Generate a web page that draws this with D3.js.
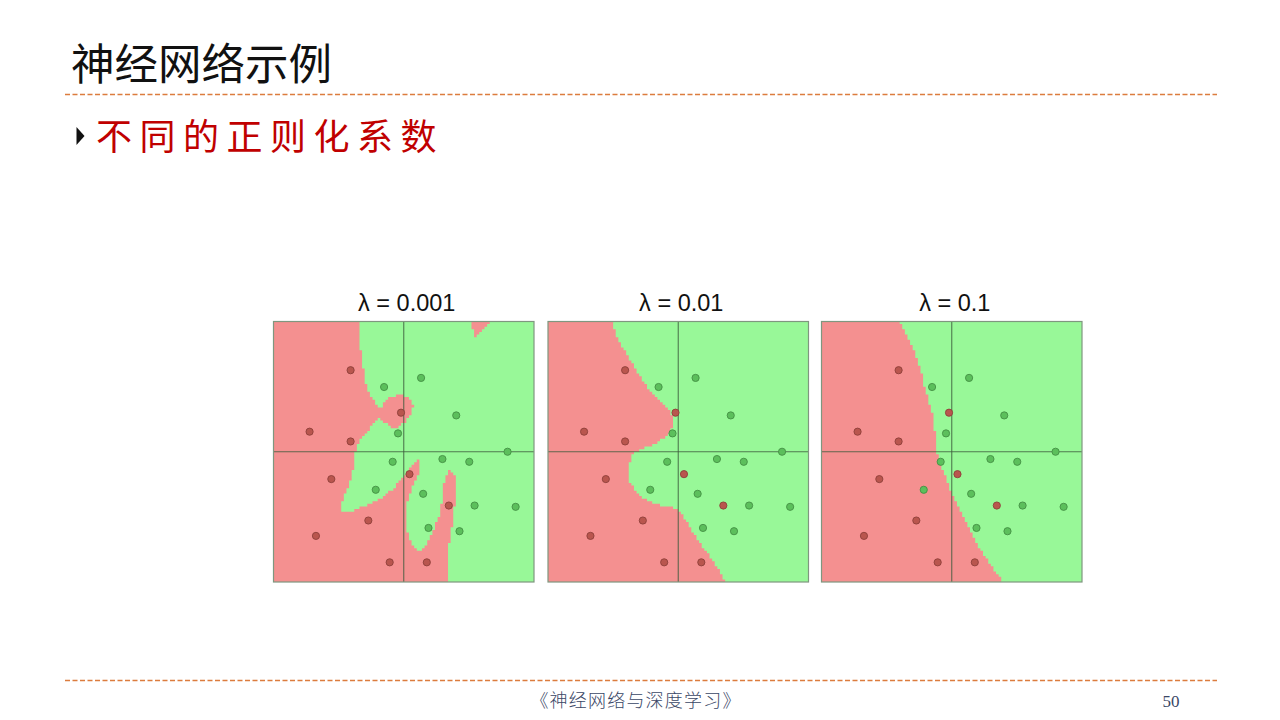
<!DOCTYPE html>
<html>
<head>
<meta charset="utf-8">
<script src="https://cdn.jsdelivr.net/npm/d3@7"></script>
<style>
  html, body { margin: 0; padding: 0; background: #ffffff; }
  svg { display: block; }
</style>
</head>
<body>
<svg id="chart" width="1280" height="720"></svg>
<script>
// ---------------- DATA ----------------
const panelTitles = ["λ = 0.001", "λ = 0.01", "λ = 0.1"];

// training points (same in all panels), normalized feature space [-1, 1]
const pointX = [-0.408, -0.021, -0.723, -0.408, -0.556, 0.044, 0.346, -0.272, -0.674, -0.108, 0.177,
                -0.151, 0.133, 0.403, -0.044, 0.797, -0.085, 0.297, 0.503, -0.215, 0.149, 0.544, 0.859, 0.190, 0.428];
const pointY = [0.626, 0.300, 0.154, 0.079, -0.210, -0.172, -0.413, -0.528, -0.646, -0.849, -0.849,
                0.497, 0.567, 0.279, 0.141, 0.000, -0.077, -0.056, -0.077, -0.292, -0.323, -0.413, -0.423, -0.585, -0.610];
const pointClass = ["r","r","r","r","r","r","r","r","r","r","r",
                    "g","g","g","g","g","g","g","g","g","g","g","g","g","g"];

// red decision regions (polygon boundaries)
const red001Main = [
  [-1, 1], [-0.348, 1], [-0.335, 0.845], [-0.322, 0.691], [-0.296, 0.563], [-0.283, 0.473],
  [-0.232, 0.396], [-0.181, 0.319], [-0.142, 0.396], [-0.091, 0.427], [-0.014, 0.435],
  [0.05, 0.409], [0.075, 0.358], [0.063, 0.294], [0.012, 0.229], [-0.052, 0.178],
  [-0.104, 0.191], [-0.155, 0.229], [-0.194, 0.255], [-0.232, 0.217], [-0.283, 0.152],
  [-0.335, 0.088], [-0.373, -0.002], [-0.386, -0.117], [-0.398, -0.194], [-0.425, -0.258],
  [-0.463, -0.36], [-0.488, -0.437], [-0.488, -0.463], [-0.386, -0.45], [-0.283, -0.412],
  [-0.181, -0.36], [-0.091, -0.296], [-0.014, -0.206], [0.037, -0.142], [0.088, -0.091],
  [0.127, -0.035], [0.127, -0.091], [0.114, -0.168], [0.075, -0.245], [0.037, -0.348],
  [0.012, -0.45], [0.012, -0.552], [0.037, -0.655], [0.088, -0.745], [0.127, -0.763],
  [0.165, -0.719], [0.217, -0.629], [0.268, -0.502], [0.294, -0.373], [0.306, -0.245],
  [0.332, -0.168], [0.358, -0.142], [0.396, -0.181], [0.396, -0.322], [0.388, -0.45],
  [0.371, -0.578], [0.345, -0.732], [0.332, -0.886], [0.332, -1], [-1, -1]
];
const red001Patch = [
  [0.525, 1.02], [0.686, 1.02], [0.64, 0.96], [0.588, 0.909], [0.542, 0.865], [0.532, 0.921]
];
const red01 = [
  [-1, 1], [-0.513, 1], [-0.487, 0.923], [-0.462, 0.859], [-0.423, 0.795], [-0.385, 0.731],
  [-0.346, 0.667], [-0.308, 0.603], [-0.269, 0.538], [-0.218, 0.474], [-0.167, 0.423],
  [-0.115, 0.372], [-0.069, 0.321], [-0.044, 0.269], [-0.038, 0.205], [-0.064, 0.154],
  [-0.115, 0.103], [-0.192, 0.056], [-0.269, 0.026], [-0.321, 0], [-0.359, -0.038],
  [-0.377, -0.103], [-0.385, -0.179], [-0.367, -0.244], [-0.321, -0.308], [-0.269, -0.359],
  [-0.192, -0.397], [-0.09, -0.423], [-0.026, -0.431], [0.013, -0.462], [0.051, -0.513],
  [0.09, -0.577], [0.128, -0.641], [0.167, -0.705], [0.218, -0.769], [0.269, -0.846],
  [0.321, -0.923], [0.367, -1], [-1, -1]
];
const red1 = [
  [-1, 1], [-0.403, 1], [-0.372, 0.944], [-0.338, 0.879], [-0.3, 0.803], [-0.274, 0.726],
  [-0.249, 0.649], [-0.228, 0.585], [-0.21, 0.508], [-0.185, 0.431], [-0.167, 0.354],
  [-0.146, 0.277], [-0.133, 0.2], [-0.126, 0.123], [-0.121, 0.046], [-0.108, -0.031],
  [-0.082, -0.108], [-0.056, -0.172], [-0.031, -0.236], [-0.005, -0.313], [0.033, -0.39],
  [0.072, -0.467], [0.11, -0.544], [0.149, -0.621], [0.187, -0.697], [0.238, -0.774],
  [0.29, -0.851], [0.341, -0.928], [0.392, -1], [-1, -1]
];
const panelRegions = [[red001Main, red001Patch], [red01], [red1]];

// ---------------- LAYOUT / STYLE ----------------
const panelLeft = [273.5, 548, 821.5];
const panelTop = 321.5;
const panelSize = 260.5;
const gridN = 100;
const colGreen = "#98f898";
const colRed = "#f49090";
const dashColor = "#dc7c3e";

const svg = d3.select("#chart");

// header
svg.append("text").attr("x", 71).attr("y", 80)
  .attr("font-family", "'Noto Sans CJK SC', sans-serif").attr("font-size", 43.5)
  .attr("fill", "#111").text("神经网络示例");

svg.append("line").attr("x1", 65).attr("x2", 1217).attr("y1", 94.5).attr("y2", 94.5)
  .attr("stroke", dashColor).attr("stroke-width", 1.3).attr("stroke-dasharray", "5,2.5");

svg.append("path").attr("d", "M76.5,127 L84.5,136 L76.5,145 Z").attr("fill", "#111");

svg.append("text").attr("x", 96).attr("y", 150)
  .attr("font-family", "'Noto Sans CJK SC', sans-serif").attr("font-size", 36)
  .attr("font-weight", 400)
  .attr("letter-spacing", "7.5px")
  .attr("fill", "#c00000").text("不同的正则化系数");

// footer
svg.append("line").attr("x1", 65).attr("x2", 1217).attr("y1", 680.5).attr("y2", 680.5)
  .attr("stroke", dashColor).attr("stroke-width", 1.3).attr("stroke-dasharray", "5,2.5");
svg.append("text").attr("x", 636).attr("y", 707).attr("text-anchor", "middle")
  .attr("font-family", "'Noto Sans CJK SC', sans-serif").attr("font-size", 18)
  .attr("font-weight", 300).attr("letter-spacing", "1.2px")
  .attr("fill", "#3a4766").text("《神经网络与深度学习》");
svg.append("text").attr("x", 1171).attr("y", 707).attr("text-anchor", "middle")
  .attr("font-family", "'Liberation Serif', serif").attr("font-size", 17)
  .attr("fill", "#3a4766").text("50");

// panels
panelTitles.forEach((title, p) => {
  const x = d3.scaleLinear().domain([-1, 1]).range([panelLeft[p], panelLeft[p] + panelSize]);
  const y = d3.scaleLinear().domain([-1, 1]).range([panelTop + panelSize, panelTop]);
  const g = svg.append("g");

  g.append("text").attr("x", x(0) + 3).attr("y", panelTop - 11)
    .attr("text-anchor", "middle")
    .attr("font-family", "'Liberation Sans', Arial, sans-serif").attr("font-size", 23.5)
    .attr("fill", "#111").text(title);

  // green background
  g.append("rect").attr("x", x(-1)).attr("y", y(1))
    .attr("width", x(1) - x(-1)).attr("height", y(-1) - y(1)).attr("fill", colGreen);

  // rasterized red region
  const polys = panelRegions[p];
  const step = 2 / gridN;
  let d = "";
  for (let j = 0; j < gridN; j++) {
    const cy = 1 - (j + 0.5) * step;
    let runStart = null;
    for (let i = 0; i <= gridN; i++) {
      let inside = false;
      if (i < gridN) {
        const cx = -1 + (i + 0.5) * step;
        inside = polys.some(poly => d3.polygonContains(poly, [cx, cy]));
      }
      if (inside && runStart === null) runStart = i;
      if (!inside && runStart !== null) {
        const x0 = x(-1 + runStart * step), x1 = x(-1 + i * step);
        const y0 = y(1 - j * step), y1 = y(1 - (j + 1) * step);
        d += `M${x0},${y0}H${x1}V${y1}H${x0}Z`;
        runStart = null;
      }
    }
  }
  g.append("path").attr("d", d).attr("fill", colRed);

  // crosshair
  g.append("line").attr("x1", x(0)).attr("x2", x(0)).attr("y1", y(1)).attr("y2", y(-1))
    .attr("stroke", "#3c5a3c").attr("stroke-opacity", 0.8).attr("stroke-width", 1.1);
  g.append("line").attr("x1", x(-1)).attr("x2", x(1)).attr("y1", y(0)).attr("y2", y(0))
    .attr("stroke", "#3c5a3c").attr("stroke-opacity", 0.8).attr("stroke-width", 1.1);

  // points
  g.selectAll("circle").data(pointX.map((v, k) => k)).join("circle")
    .attr("cx", k => x(pointX[k])).attr("cy", k => y(pointY[k])).attr("r", 3.6)
    .attr("fill", k => pointClass[k] === "r" ? "#b9564e" : "#5cbf5c")
    .attr("stroke", k => pointClass[k] === "r" ? "#8e3f3a" : "#449044")
    .attr("stroke-width", 0.9);

  // border
  g.append("rect").attr("x", x(-1)).attr("y", y(1))
    .attr("width", x(1) - x(-1)).attr("height", y(-1) - y(1))
    .attr("fill", "none").attr("stroke", "#7f977f").attr("stroke-width", 1.2);
});
</script>
</body>
</html>
